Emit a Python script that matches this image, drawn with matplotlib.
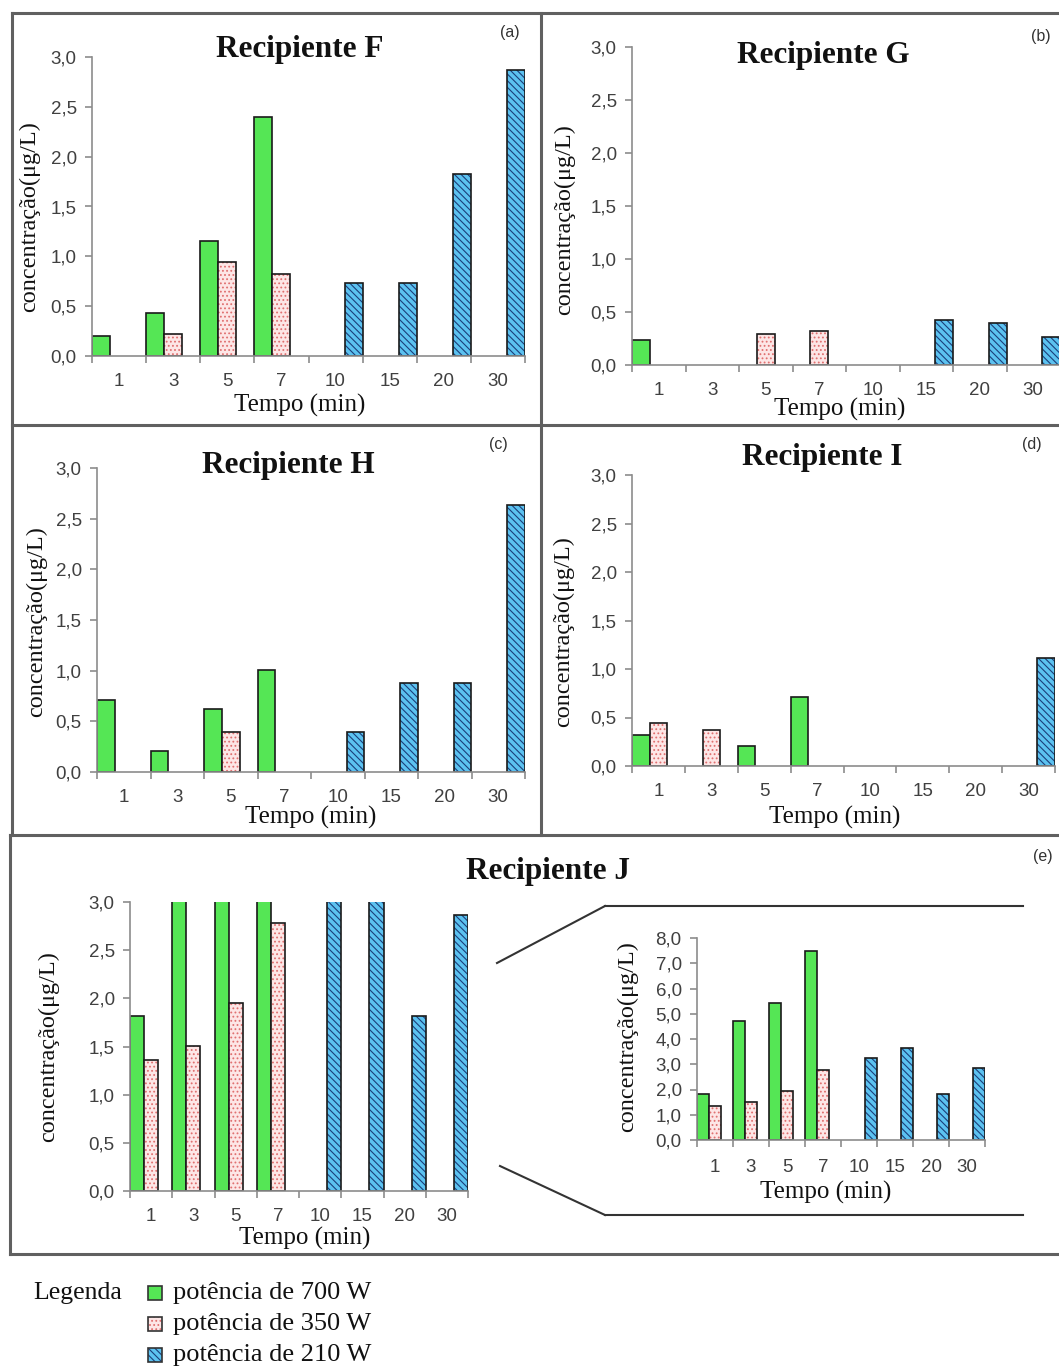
import matplotlib
matplotlib.use("Agg")
import matplotlib.pyplot as plt
from matplotlib.patches import Rectangle
from matplotlib.lines import Line2D
from matplotlib.ticker import FuncFormatter, FixedLocator
import numpy as np

W, H = 1059, 1367

# categories (Tempo, min)
tempos = ["1", "3", "5", "7", "10", "15", "20", "30"]
series_names = ["potência de 700 W", "potência de 350 W", "potência de 210 W"]

# concentração (µg/L) per recipient: 700 W, 350 W, 210 W
F_700 = [0.20, 0.43, 1.15, 2.40, 0, 0, 0, 0]
F_350 = [0, 0.22, 0.94, 0.82, 0, 0, 0, 0]
F_210 = [0, 0, 0, 0, 0.73, 0.73, 1.83, 2.87]

G_700 = [0.24, 0, 0, 0, 0, 0, 0, 0]
G_350 = [0, 0, 0.29, 0.32, 0, 0, 0, 0]
G_210 = [0, 0, 0, 0, 0, 0.42, 0.40, 0.26]

H_700 = [0.71, 0.21, 0.62, 1.01, 0, 0, 0, 0]
H_350 = [0, 0, 0.39, 0, 0, 0, 0, 0]
H_210 = [0, 0, 0, 0, 0.39, 0.88, 0.88, 2.63]

I_700 = [0.32, 0, 0.21, 0.71, 0, 0, 0, 0]
I_350 = [0.44, 0.37, 0, 0, 0, 0, 0, 0]
I_210 = [0, 0, 0, 0, 0, 0, 0, 1.11]

J_700 = [1.82, 4.73, 5.44, 7.48, 0, 0, 0, 0]
J_350 = [1.36, 1.51, 1.95, 2.78, 0, 0, 0, 0]
J_210 = [0, 0, 0, 0, 3.24, 3.65, 1.82, 2.86]

# styles: face, hatch, hatch colour
styles = [
    ("#55e655", None, None),
    ("#fde6e6", "....", "#e07070"),
    ("#5cc2f0", "\\\\\\\\\\", "#1b3f7a"),
]

plt.rcParams["hatch.linewidth"] = 0.8
SERIF = "Liberation Serif"
SANS = "Liberation Sans"

fig = plt.figure(figsize=(W / 100, H / 100), dpi=100)


def px_axes(x0, y0, x1, y1):
    return fig.add_axes([x0 / W, 1 - y1 / H, (x1 - x0) / W, (y1 - y0) / H])


def comma(v, pos):
    return f"{v:.1f}".replace(".", ",")


def bar_panel(ax, data, ymax=3.0, ystep=0.5):
    x = np.arange(len(tempos))
    offs = [1 / 6, 0.5, 5 / 6]
    for vals, off, (fc, hatch, hc) in zip(data, offs, styles):
        v = np.array(vals)
        m = v > 0
        if hatch:
            ax.bar(x[m] + off, v[m], width=1 / 3, color=fc, hatch=hatch,
                   edgecolor=hc, linewidth=0)
        else:
            ax.bar(x[m] + off, v[m], width=1 / 3, color=fc, linewidth=0)
        ax.bar(x[m] + off, v[m], width=1 / 3, facecolor="none",
               edgecolor="#1a1a1a", linewidth=1.2)
    ax.set_xlim(0, len(tempos))
    ax.set_ylim(0, ymax)
    for s in ["top", "right"]:
        ax.spines[s].set_visible(False)
    for s in ["left", "bottom"]:
        ax.spines[s].set_color("#8c8c8c")
        ax.spines[s].set_linewidth(1.2)
    ax.xaxis.set_major_locator(FixedLocator(np.arange(len(tempos) + 1)))
    ax.xaxis.set_minor_locator(FixedLocator(x + 0.5))
    ax.set_xticklabels([])
    ax.set_xticklabels(tempos, minor=True)
    ax.tick_params(axis="x", which="major", length=5, color="#8c8c8c", width=1.2)
    ax.tick_params(axis="x", which="minor", length=0, pad=12,
                   labelsize=13.5, labelcolor="#404040")
    ax.set_yticks(np.arange(0, ymax + 1e-9, ystep))
    ax.yaxis.set_major_formatter(FuncFormatter(comma))
    ax.tick_params(axis="y", length=5, color="#8c8c8c", width=1.2, pad=6,
                   labelsize=13.5, labelcolor="#404040")
    for lab in ax.get_xticklabels(minor=True) + ax.get_yticklabels():
        lab.set_family(SANS)
    ax.patch.set_alpha(0)


def ylab(x, y, size=17.5):
    fig.text(x / W, 1 - y / H, "concentração(μg/L)", rotation=90, ha="center",
             va="center", family=SERIF, fontsize=size, color="#111111")


def txt(x, y, s, size, **kw):
    fig.text(x / W, 1 - y / H, s, ha="center", va="center", **kw, fontsize=size)


# panel borders
border = dict(color="#606060", lw=2.2)
segs = [
    ((12, 13), (1059, 13)), ((12, 13), (12, 835)), ((541, 13), (541, 835)),
    ((12, 425), (1059, 425)), ((10, 835), (1059, 835)), ((10, 835), (10, 1254)),
    ((10, 1254), (1059, 1254)),
    # zoom connectors for J inset
    ((497, 963), (605, 906)), ((605, 906), (1023, 906)),
    ((500, 1166), (605, 1215)), ((605, 1215), (1023, 1215)),
]
for i, ((xa, ya), (xb, yb)) in enumerate(segs):
    kw = border if i < 7 else dict(color="#333333", lw=1.5)
    fig.add_artist(Line2D([xa / W, xb / W], [1 - ya / H, 1 - yb / H], **kw))

panels = [
    ((92, 57, 525, 356), (F_700, F_350, F_210), "Recipiente F", (300, 50), "(a)", (510, 33), (300, 405), (30, 217)),
    ((632, 47, 1060, 365), (G_700, G_350, G_210), "Recipiente G", (823, 56), "(b)", (1041, 37), (840, 409), (565, 220)),
    ((97, 468, 525, 772), (H_700, H_350, H_210), "Recipiente H", (288, 466), "(c)", (498, 445), (311, 817), (37, 622)),
    ((632, 475, 1055, 766), (I_700, I_350, I_210), "Recipiente I", (822, 458), "(d)", (1032, 445), (835, 817), (564, 632)),
    ((130, 902, 468, 1191), (J_700, J_350, J_210), "Recipiente J", (548, 872), "(e)", (1043, 857), (305, 1238), (49, 1047)),
]
for rect, data, title, tpos, tag, gpos, xlpos, ylpos in panels:
    ax = px_axes(*rect)
    bar_panel(ax, data)
    txt(*tpos, title, 22.5, family=SERIF, weight="bold", color="#111111")
    txt(*gpos, tag, 11.5, family=SANS, color="#333333")
    txt(*xlpos, "Tempo (min)", 18, family=SERIF, color="#111111")
    ylab(*ylpos)

# inset with full J scale
axi = px_axes(697, 938, 985, 1140)
bar_panel(axi, (J_700, J_350, J_210), ymax=8.0, ystep=1.0)
axi.tick_params(axis="x", which="minor", pad=14)
txt(826, 1192, "Tempo (min)", 18, family=SERIF, color="#111111")
ylab(628, 1037)

# legend
txt(78, 1293, "Legenda", 18.5, family=SERIF, color="#111111")
for k, (name, (fc, hatch, hc)) in enumerate(zip(series_names, styles)):
    yc = 1293 + k * 31
    r = Rectangle((148 / W, 1 - (yc + 7) / H), 14 / W, 14 / H,
                  transform=fig.transFigure, facecolor=fc,
                  hatch=hatch, edgecolor=hc if hc else fc, linewidth=0)
    fig.add_artist(r)
    fig.add_artist(Rectangle((148 / W, 1 - (yc + 7) / H), 14 / W, 14 / H,
                             transform=fig.transFigure, facecolor="none",
                             edgecolor="#333333", linewidth=1.2))
    fig.text(173 / W, 1 - yc / H, name, ha="left", va="center",
             family=SERIF, fontsize=19, color="#111111")

fig.savefig("out.png", dpi=100)
